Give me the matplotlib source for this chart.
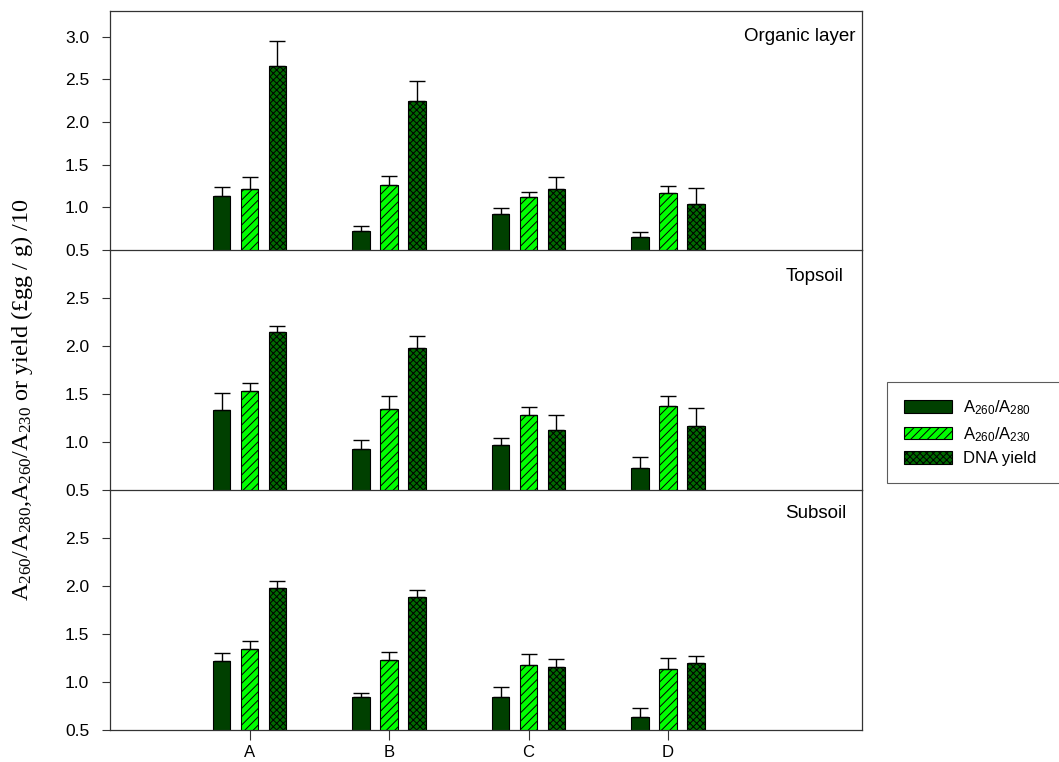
import matplotlib
matplotlib.use("Agg")
import matplotlib.pyplot as plt
import numpy as np

plt.rcParams['font.family'] = ['Liberation Sans', 'DejaVu Sans']
plt.rcParams['mathtext.default'] = 'regular'
plt.rcParams['hatch.linewidth'] = 0.7

# Sites and soil layers
sites = ['A', 'B', 'C', 'D']
layers = ['Organic layer', 'Topsoil', 'Subsoil']

# A260/A280 ratio, mean and standard error per site
organic_a280 = [1.13, 0.72, 0.92, 0.65]
organic_a280_se = [0.11, 0.06, 0.07, 0.06]
topsoil_a280 = [1.33, 0.93, 0.97, 0.73]
topsoil_a280_se = [0.18, 0.09, 0.07, 0.11]
subsoil_a280 = [1.22, 0.84, 0.84, 0.64]
subsoil_a280_se = [0.08, 0.045, 0.11, 0.09]

# A260/A230 ratio
organic_a230 = [1.22, 1.26, 1.12, 1.17]
organic_a230_se = [0.13, 0.11, 0.06, 0.08]
topsoil_a230 = [1.53, 1.34, 1.28, 1.38]
topsoil_a230_se = [0.08, 0.14, 0.08, 0.10]
subsoil_a230 = [1.34, 1.23, 1.18, 1.14]
subsoil_a230_se = [0.09, 0.08, 0.11, 0.11]

# DNA yield (ug/g)/10
organic_yield = [2.65, 2.25, 1.21, 1.04]
organic_yield_se = [0.30, 0.23, 0.15, 0.19]
topsoil_yield = [2.15, 1.98, 1.13, 1.17]
topsoil_yield_se = [0.06, 0.12, 0.15, 0.18]
subsoil_yield = [1.98, 1.885, 1.16, 1.20]
subsoil_yield_se = [0.07, 0.075, 0.08, 0.07]

panel_data = [
    [(organic_a280, organic_a280_se), (organic_a230, organic_a230_se), (organic_yield, organic_yield_se)],
    [(topsoil_a280, topsoil_a280_se), (topsoil_a230, topsoil_a230_se), (topsoil_yield, topsoil_yield_se)],
    [(subsoil_a280, subsoil_a280_se), (subsoil_a230, subsoil_a230_se), (subsoil_yield, subsoil_yield_se)],
]

series_labels = ['$A_{260}/A_{280}$', '$A_{260}/A_{230}$', 'DNA yield']
colors = ['#004000', '#00ff00', '#006a00']
hatches = ['', '////', 'xxxxx']
offsets = [-0.2, 0.0, 0.2]
bar_width = 0.125

fig = plt.figure(figsize=(10.59, 7.62), dpi=100)

left, width = 110 / 1059, 752 / 1059
tops = [11, 250, 490]
bottoms = [250, 490, 730]
ytops = [3.3, 3.0, 3.0]
yticks_list = [np.arange(0.5, 3.01, 0.5), np.arange(0.5, 2.51, 0.5), np.arange(0.5, 2.51, 0.5)]
label_pos = [(0.992, 0.895), (0.976, 0.888), (0.979, 0.9)]

x = np.arange(1, len(sites) + 1)
frame_color = '#333333'
handles = []

for i, layer in enumerate(layers):
    y0 = 1 - bottoms[i] / 762
    h = (bottoms[i] - tops[i]) / 762
    ax = fig.add_axes([left, y0, width, h])
    # transparent background so the panel below doesn't hide the separator line
    ax.set_facecolor('none')

    for j, (vals, se) in enumerate(panel_data[i]):
        bars = ax.bar(x + offsets[j], vals, width=bar_width, color=colors[j],
                      edgecolor='black', linewidth=0.8, hatch=hatches[j], zorder=2)
        ax.errorbar(x + offsets[j], vals, yerr=[np.zeros(len(se)), se], fmt='none',
                    ecolor='black', elinewidth=1, capsize=6, capthick=1, zorder=3)
        if i == 0:
            handles.append(bars)

    ax.set_xlim(0, 5.39)
    ax.set_ylim(0.5, ytops[i])
    ax.set_yticks(yticks_list[i])
    ax.set_yticklabels([f'{v:.1f}' for v in yticks_list[i]])
    ax.tick_params(axis='y', direction='out', length=6, width=0.8, pad=9,
                   labelsize=12.5, color=frame_color)

    for side in ['left', 'right', 'bottom', 'top']:
        ax.spines[side].set_color(frame_color)
        ax.spines[side].set_linewidth(0.9)
    ax.spines['bottom'].set_zorder(5)
    if i > 0:
        ax.spines['top'].set_visible(False)

    if i == len(layers) - 1:
        ax.set_xticks(x)
        ax.set_xticklabels(sites)
        ax.tick_params(axis='x', direction='out', length=7, width=0.8, pad=4,
                       labelsize=12, color=frame_color)
    else:
        ax.set_xticks([])

    ax.text(label_pos[i][0], label_pos[i][1], layer, transform=ax.transAxes,
            ha='right', va='center', fontsize=13.5)

fig.text(0.021, 0.475, '$A_{260}/A_{280}$,$A_{260}/A_{230}$ or yield (£gg / g) /10',
         rotation=90, ha='center', va='center', fontsize=17.5,
         family=['Liberation Serif', 'DejaVu Serif'])

leg = fig.legend(handles, series_labels, loc='upper left',
                 bbox_to_anchor=(887 / 1059, 1 - 480 / 762, 0.2, 98 / 762),
                 mode='expand', frameon=True, fancybox=False, fontsize=12,
                 handlelength=2.9, handleheight=0.8, labelspacing=0.45,
                 borderpad=1.0, handletextpad=0.65, borderaxespad=0)
leg.get_frame().set_edgecolor(frame_color)
leg.get_frame().set_linewidth(0.8)

fig.savefig('out.png', dpi=100)
